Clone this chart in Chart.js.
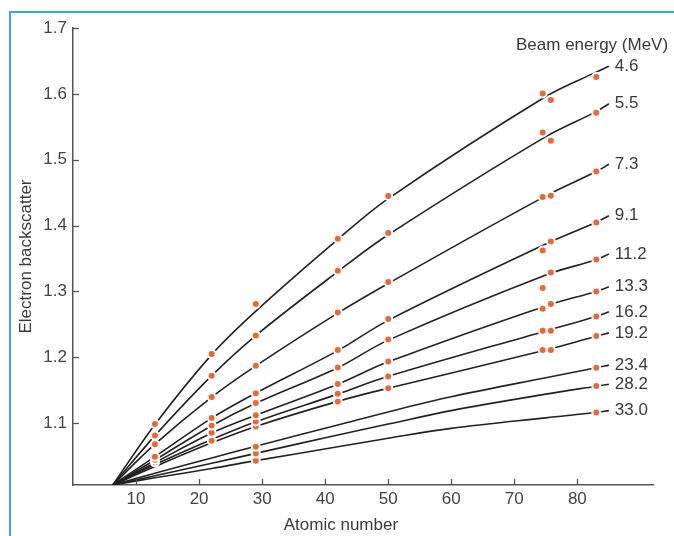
<!DOCTYPE html>
<html>
<head>
<meta charset="utf-8">
<script src="https://cdn.jsdelivr.net/npm/chart.js@4.4.1/dist/chart.umd.min.js"></script>
<style>
html,body{margin:0;padding:0;background:#fff;}
#wrap{position:relative;width:674px;height:536px;overflow:hidden;background:#fff;}
#frame{position:absolute;left:9px;top:11px;width:720px;height:600px;border-left:2px solid #3aa8d8;border-top:2px solid #3aa8d8;}
canvas{position:absolute;left:0;top:0;}
</style>
</head>
<body>
<div id="wrap"><div id="frame"></div><canvas id="c" width="674" height="536"></canvas></div>
<script>
// ---- data ----
const energies = ['4.6','5.5','7.3','9.1','11.2','13.3','16.2','19.2','23.4','28.2','33.0'];
const xTicks = [10,20,30,40,50,60,70,80];
const yTicks = [1.1,1.2,1.3,1.4,1.5,1.6,1.7];

// atomic numbers of measured elements
const dotZ = [13,22,29,42,50,74.5,75.8,83];
// measured backscatter factors (null = no measurement)
const dots46  = [1.0985,1.2048,1.2807,1.380,1.4448,1.6007,1.5906,1.6256];
const dots55  = [1.081,1.172,1.233,1.3313,1.3886,1.5414,1.5288,1.5713];
const dots73  = [1.068,1.1395,1.187,1.268,1.3142,1.4433,1.4453,1.4822];
const dots91  = [1.0488,1.1076,1.1455,1.2109,1.258,1.3622,1.3758,1.4047];
const dots112 = [1.0444,1.0963,1.1304,1.1844,1.227,1.305,1.3287,1.3483];
const dots133 = [1.0404,1.0853,1.1121,1.1592,1.1936,1.2736,1.2807,1.2999];
const dots162 = [null,1.0731,1.1024,1.1444,1.1708,1.2402,1.2402,1.2619];
const dots192 = [null,null,1.0948,1.1328,1.1531,1.2109,1.2109,1.2321];
const dots234 = [null,null,1.064,null,null,null,null,1.184];
const dots282 = [null,null,1.0538,null,null,null,null,1.1562];
const dots330 = [null,null,1.0427,null,null,null,null,1.1161];

// fitted curves
const curveZUpper = [6.3,13,22,29,42,50,75,83,85];
const curveZLower = [6.3,13,22,29,42,50,60,75,83,85];
const curve46  = [1.006,1.098,1.204,1.270,1.379,1.441,1.596,1.633,1.642];
const curve55  = [1.006,1.081,1.172,1.233,1.330,1.386,1.535,1.573,1.585];
const curve73  = [1.006,1.068,1.1395,1.187,1.267,1.312,1.445,1.482,1.493];
const curve91  = [1.006,1.049,1.1076,1.1455,1.210,1.256,1.372,1.405,1.415];
const curve112 = [1.006,1.044,1.096,1.130,1.184,1.226,1.325,1.348,1.357];
const curve133 = [1.006,1.040,1.085,1.112,1.159,1.193,1.278,1.300,1.307];
const curve162 = [1.006,1.037,1.075,1.102,1.144,1.171,1.240,1.262,1.269];
const curve192 = [1.006,1.034,1.070,1.095,1.133,1.153,1.211,1.232,1.237];
const curve234 = [1.006,1.024,1.047,1.065,1.097,1.117,1.140,1.169,1.184,1.188];
const curve282 = [1.006,1.020,1.039,1.054,1.082,1.0985,1.119,1.144,1.156,1.159];
const curve330 = [1.006,1.017,1.031,1.043,1.064,1.077,1.092,1.108,1.116,1.119];

const dotSeries = [dots46,dots55,dots73,dots91,dots112,dots133,dots162,dots192,dots234,dots282,dots330];
const curveSeries = [curve46,curve55,curve73,curve91,curve112,curve133,curve162,curve192,curve234,curve282,curve330];
const curveZs = [curveZUpper,curveZUpper,curveZUpper,curveZUpper,curveZUpper,curveZUpper,curveZUpper,curveZUpper,curveZLower,curveZLower,curveZLower];

// ---- styles ----
const FONT = 'Liberation Sans, Arial, sans-serif';
const FSIZE = 17;
const axisColor = '#555';
const textColor = '#3a3a3a';
const lineColor = '#222222';
const dotColor = '#e8683a';

const datasets = [];
dotSeries.forEach((vals, i) => {
  datasets.push({
    label: 'dots ' + energies[i],
    data: dotZ.map((z, k) => vals[k] === null ? null : {x: z, y: vals[k]}).filter(p => p),
    showLine: false,
    pointRadius: 4,
    pointBackgroundColor: dotColor,
    pointBorderColor: '#ffffff',
    pointBorderWidth: 2,
    order: 0
  });
});
curveSeries.forEach((vals, i) => {
  datasets.push({
    label: energies[i],
    isCurve: true,
    data: vals.map((v, k) => ({x: curveZs[i][k], y: v})),
    showLine: true,
    tension: 0.35,
    borderColor: lineColor,
    borderWidth: 1.6,
    pointRadius: 0,
    order: 1
  });
});

const decor = {
  id: 'decor',
  afterDraw(chart) {
    const {ctx, scales: {x, y}, chartArea} = chart;
    ctx.save();
    // inward ticks
    ctx.strokeStyle = axisColor;
    ctx.lineWidth = 1.3;
    xTicks.forEach(v => {
      const px = Math.round(x.getPixelForValue(v)) + 0.5;
      ctx.beginPath(); ctx.moveTo(px, chartArea.bottom); ctx.lineTo(px, chartArea.bottom - 6); ctx.stroke();
    });
    yTicks.forEach(v => {
      const py = Math.round(y.getPixelForValue(v)) + 0.5;
      ctx.beginPath(); ctx.moveTo(chartArea.left, py); ctx.lineTo(chartArea.left + 6, py); ctx.stroke();
    });
    // energy labels at curve ends
    ctx.fillStyle = textColor;
    ctx.font = FSIZE + 'px ' + FONT;
    ctx.textAlign = 'left';
    ctx.textBaseline = 'middle';
    chart.data.datasets.forEach(ds => {
      if (!ds.isCurve) return;
      const last = ds.data[ds.data.length - 1];
      ctx.fillText(ds.label, x.getPixelForValue(last.x) + 6, y.getPixelForValue(last.y));
    });
    ctx.fillText('Beam energy (MeV)', chartArea.right - 137, chartArea.top + 17);
    // axis titles
    ctx.textAlign = 'center';
    ctx.fillText('Atomic number', x.getPixelForValue(42.5), chartArea.bottom + 40);
    ctx.translate(26, (chartArea.top + chartArea.bottom) / 2);
    ctx.rotate(-Math.PI / 2);
    ctx.fillText('Electron backscatter', 0, 0);
    ctx.restore();
  }
};

new Chart(document.getElementById('c'), {
  type: 'scatter',
  data: {datasets},
  options: {
    responsive: false,
    animation: false,
    events: [],
    layout: {padding: {left: 0, top: 28, right: 21, bottom: 0}},
    plugins: {legend: {display: false}, tooltip: {enabled: false}},
    scales: {
      x: {
        type: 'linear', min: 0, max: 92,
        afterBuildTicks: s => { s.ticks = xTicks.map(v => ({value: v})); },
        afterFit: s => { s.height = 51; },
        grid: {display: false, drawTicks: false},
        border: {display: true, color: axisColor, width: 1.5},
        ticks: {color: '#444', font: {family: FONT, size: FSIZE}, padding: 4, maxRotation: 0,
                callback: v => String(v)}
      },
      y: {
        type: 'linear', min: 1.006, max: 1.7,
        afterBuildTicks: s => { s.ticks = yTicks.map(v => ({value: v})); },
        afterFit: s => { s.width = 73; },
        grid: {display: false, drawTicks: false},
        border: {display: true, color: axisColor, width: 1.5},
        ticks: {color: '#444', font: {family: FONT, size: FSIZE}, padding: 6,
                callback: v => v.toFixed(1)}
      }
    }
  },
  plugins: [decor]
});
</script>
</body>
</html>
